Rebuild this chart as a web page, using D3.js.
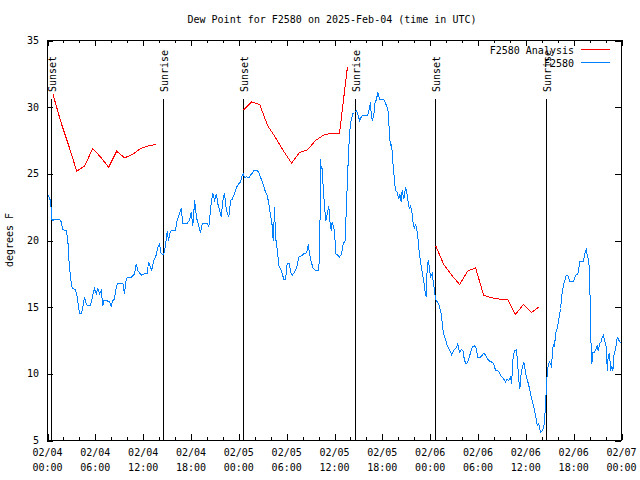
<!DOCTYPE html>
<html><head><meta charset="utf-8">
<script src="https://cdn.jsdelivr.net/npm/d3@7"></script>
<style>
body{margin:0;background:#fff}
svg text{font-family:"DejaVu Sans Mono","Liberation Mono",monospace;font-size:10px;fill:#000}
</style>
</head><body><svg id="chart" width="640" height="480"></svg>
<script>
// ---- data ----
const titleText = "Dew Point for F2580 on 2025-Feb-04 (time in UTC)";
const yAxisLabel = "degrees F";
const yTickValues = [5, 10, 15, 20, 25, 30, 35];
const xMajorHours = [0, 6, 12, 18, 24, 30, 36, 42, 48, 54, 60, 66, 72];
const xMinorHours = [2, 4, 8, 10, 14, 16, 20, 22, 26, 28, 32, 34, 38, 40, 44, 46, 50, 52, 56, 58, 62, 64, 68, 70];
const seriesNames = ["F2580 Analysis", "F2580"];
const seriesColors = ["#ff0000", "#0080ff"];
// [hours since 2025-02-04 00:00 UTC, dew point F]
const observations = [[0.08,23.4],[0.29,23.1],[0.38,23.0],[0.46,22.4],[0.54,21.6],[0.66,21.5],[0.88,21.6],[1.51,21.6],[1.72,21.4],[1.92,20.8],[2.35,20.75],[2.55,20.1],[2.63,19.0],[2.76,18.0],[2.89,17.25],[3.05,16.55],[3.17,16.4],[3.47,16.3],[3.68,15.95],[3.80,15.4],[3.93,14.9],[4.01,14.5],[4.23,14.5],[4.43,15.0],[4.64,15.75],[4.85,15.25],[5.06,15.1],[5.39,15.1],[5.68,15.9],[5.90,16.4],[6.11,16.0],[6.31,16.4],[6.52,16.0],[6.74,16.25],[6.94,15.1],[7.06,15.5],[7.36,15.5],[7.78,15.4],[7.99,15.1],[8.19,15.5],[8.40,15.6],[8.62,16.5],[8.82,16.8],[9.45,16.8],[9.66,16.0],[9.87,17.1],[10.07,17.25],[10.50,17.25],[10.91,17.5],[11.13,18.25],[11.33,17.75],[11.75,17.4],[12.17,17.5],[12.51,17.5],[12.67,18.4],[12.92,18.0],[13.08,17.75],[13.33,18.5],[13.63,18.9],[13.84,19.5],[14.05,19.75],[14.26,19.0],[14.59,18.95],[14.76,19.5],[15.02,20.7],[15.18,20.0],[15.43,20.7],[15.72,20.75],[16.06,20.75],[16.27,21.55],[16.56,22.0],[16.77,22.4],[16.97,21.3],[17.52,21.3],[17.81,21.5],[18.03,22.1],[18.23,21.1],[18.46,23.0],[18.69,21.75],[18.78,21.5],[18.98,21.1],[19.19,20.6],[19.41,21.25],[19.82,21.3],[20.03,21.3],[20.23,21.0],[20.36,21.75],[20.53,22.75],[20.74,23.55],[20.95,23.0],[21.20,23.5],[21.36,22.75],[21.61,22.25],[21.79,21.75],[21.99,23.0],[22.20,23.55],[22.37,22.6],[22.54,22.1],[22.74,21.75],[22.96,23.0],[23.17,23.1],[23.37,23.4],[23.58,23.75],[23.80,24.1],[24.00,24.25],[24.21,24.4],[24.42,24.9],[24.55,25.0],[24.71,24.7],[24.96,24.8],[25.25,24.7],[25.46,24.9],[25.68,25.05],[25.88,25.25],[26.30,25.25],[26.51,25.1],[26.72,24.75],[26.93,24.4],[27.13,24.1],[27.35,23.6],[27.56,23.4],[27.76,22.75],[27.97,21.9],[28.19,21.1],[28.31,20.0],[28.39,21.0],[28.48,22.5],[28.60,20.25],[28.73,19.75],[28.89,18.9],[29.01,18.1],[29.23,17.9],[29.44,17.5],[29.64,17.1],[29.86,17.05],[30.07,18.3],[30.36,18.3],[30.48,17.6],[30.70,17.4],[30.90,17.55],[31.11,17.75],[31.32,18.1],[31.52,18.75],[31.74,18.8],[31.95,18.9],[32.15,19.0],[32.36,19.0],[32.58,19.25],[32.70,19.7],[32.87,19.0],[33.08,18.4],[33.33,17.9],[33.62,17.75],[34.03,17.75],[34.16,20.0],[34.25,26.1],[34.33,25.4],[34.46,25.4],[34.58,24.0],[34.75,22.5],[34.91,21.5],[35.09,22.0],[35.29,22.6],[35.41,21.5],[35.59,20.75],[35.71,21.4],[35.91,21.0],[36.04,20.25],[36.17,19.0],[36.42,18.9],[36.63,18.75],[36.88,19.0],[37.09,19.75],[37.34,20.0],[37.42,21.4],[37.59,24.0],[37.72,26.0],[37.88,28.0],[38.10,29.1],[38.30,29.5],[38.51,29.6],[38.76,29.75],[38.92,29.5],[39.14,29.0],[39.35,29.25],[39.55,29.4],[40.18,29.4],[40.39,29.9],[40.52,30.4],[40.61,29.4],[40.73,29.0],[40.93,29.4],[41.06,30.25],[41.27,30.6],[41.43,31.1],[41.68,30.6],[41.99,30.6],[42.27,30.5],[42.53,30.1],[42.69,29.9],[42.81,28.9],[42.94,27.5],[43.11,27.0],[43.15,27.25],[43.24,26.6],[43.37,25.5],[43.53,24.5],[43.65,23.75],[43.87,23.6],[44.07,23.1],[44.19,23.5],[44.37,22.9],[44.49,23.75],[44.69,23.1],[44.91,24.0],[45.03,23.75],[45.20,23.0],[45.37,22.4],[45.54,22.6],[45.75,22.0],[45.87,21.25],[46.04,20.9],[46.16,21.25],[46.38,20.6],[46.50,20.0],[46.63,19.1],[46.79,18.4],[47.00,17.6],[47.20,17.0],[47.33,16.25],[47.50,15.75],[47.63,18.0],[47.76,18.5],[47.88,18.1],[48.04,17.25],[48.26,17.5],[48.46,16.6],[48.58,16.0],[48.76,15.5],[48.88,15.4],[49.08,15.25],[49.39,14.5],[49.64,13.1],[49.93,12.6],[50.14,12.1],[50.47,11.75],[50.68,11.45],[50.96,11.75],[51.31,12.0],[51.47,12.25],[51.68,11.6],[51.90,11.8],[52.10,11.75],[52.31,11.0],[52.52,10.75],[52.72,10.9],[52.97,11.4],[53.27,12.0],[53.56,12.1],[53.78,11.9],[53.98,11.25],[54.32,11.25],[54.53,11.4],[54.73,11.55],[54.94,11.4],[55.23,11.1],[55.48,10.95],[55.66,10.9],[55.98,10.75],[56.20,10.25],[56.61,10.2],[56.83,9.9],[57.04,9.75],[57.24,9.6],[57.45,9.4],[57.66,9.6],[57.87,9.5],[58.08,9.75],[58.21,9.25],[58.42,11.4],[58.62,11.75],[58.83,11.8],[59.00,10.5],[59.12,9.5],[59.25,8.9],[59.42,10.1],[59.62,10.6],[59.75,10.9],[59.96,10.1],[60.09,9.75],[60.25,9.4],[60.46,8.9],[60.68,8.25],[60.88,7.75],[61.09,7.25],[61.30,6.6],[61.43,6.1],[61.63,6.25],[61.84,5.6],[62.05,5.75],[62.25,6.0],[62.38,6.75],[62.51,8.1],[62.59,9.25],[62.76,10.5],[62.97,10.9],[63.19,10.6],[63.31,11.25],[63.44,12.25],[63.60,12.0],[63.72,13.0],[63.94,13.4],[64.14,14.1],[64.35,14.9],[64.56,16.1],[64.77,16.75],[65.07,17.4],[65.27,17.4],[65.52,16.9],[65.95,16.9],[66.23,17.4],[66.52,17.5],[66.77,18.4],[67.20,18.45],[67.40,19.0],[67.58,19.3],[67.70,18.9],[67.90,18.5],[68.03,16.6],[68.15,12.75],[68.28,10.75],[68.40,11.6],[68.62,11.6],[68.83,11.9],[68.96,12.1],[69.08,11.75],[69.25,12.25],[69.46,12.4],[69.59,12.75],[69.71,12.9],[69.88,12.5],[70.09,12.0],[70.22,10.25],[70.34,11.4],[70.51,11.5],[70.63,10.25],[70.76,10.6],[70.92,10.25],[71.05,11.4],[71.26,11.9],[71.47,12.75],[71.69,12.5],[71.82,12.4],[71.97,12.3]];
const analysisNight1 = [[0.67,31.0],[1.67,28.9],[2.67,27.1],[3.67,25.2],[4.67,25.6],[5.67,26.9],[6.67,26.25],[7.67,25.5],[8.67,26.7],[9.67,26.2],[10.67,26.45],[11.67,26.9],[12.67,27.1],[13.67,27.2]];
const analysisNight2 = [[24.62,29.8],[25.62,30.4],[26.62,30.2],[27.62,28.6],[28.62,27.7],[29.62,26.7],[30.62,25.8],[31.62,26.6],[32.62,26.8],[33.62,27.5],[34.62,27.9],[35.62,28.05],[36.62,28.0],[37.62,33.0]];
const analysisNight3 = [[48.7,19.6],[49.7,18.2],[50.7,17.4],[51.7,16.7],[52.7,17.7],[53.7,17.95],[54.7,15.9],[55.7,15.7],[56.7,15.6],[57.7,15.6],[58.7,14.45],[59.7,15.2],[60.7,14.6],[61.7,15.05]];
const sunHours = [0.56, 14.6, 24.62, 38.67, 48.71, 62.63];
const sunLabels = ["Sunset", "Sunrise", "Sunset", "Sunrise", "Sunset", "Sunrise"];

// ---- drawing ----
const t0 = Date.UTC(2025, 1, 4, 0, 0);
const toDate = h => new Date(t0 + h * 3600000);
const svg = d3.select("#chart");
const L = 47, R = 621, T = 40, B = 440;
const x = d3.scaleUtc().domain([toDate(0), toDate(72)]).range([L + 0.5, R + 0.5]);
const y = d3.scaleLinear().domain([5, 35]).range([B + 0.5, T + 0.5]);

svg.append("rect").attr("width", 640).attr("height", 480).attr("fill", "#fff");

function cleanAxis(g) {
  g.select(".domain").remove();
  g.selectAll("text").remove();
  g.selectAll("line").attr("stroke", "#000").attr("shape-rendering", "crispEdges");
}
svg.append("g").attr("transform", `translate(0,${B})`)
  .call(d3.axisBottom(x).tickValues(xMajorHours.map(toDate)).tickSize(-6)).call(cleanAxis);
svg.append("g").attr("transform", `translate(0,${B})`)
  .call(d3.axisBottom(x).tickValues(xMinorHours.map(toDate)).tickSize(-3)).call(cleanAxis);
svg.append("g").attr("transform", `translate(0,${T})`)
  .call(d3.axisTop(x).tickValues(xMajorHours.map(toDate)).tickSize(-6)).call(cleanAxis);
svg.append("g").attr("transform", `translate(0,${T})`)
  .call(d3.axisTop(x).tickValues(xMinorHours.map(toDate)).tickSize(-3)).call(cleanAxis);
svg.append("g").attr("transform", `translate(${L},0)`)
  .call(d3.axisLeft(y).tickValues(yTickValues).tickSize(-6)).call(cleanAxis);
svg.append("g").attr("transform", `translate(${R},0)`)
  .call(d3.axisRight(y).tickValues(yTickValues).tickSize(-6)).call(cleanAxis);

const fmtDay = d3.utcFormat("%m/%d"), fmtTime = d3.utcFormat("%H:%M");
const xl = svg.append("g").selectAll("text").data(xMajorHours.map(toDate)).join("text")
  .attr("text-anchor", "middle").attr("x", d => x(d));
xl.append("tspan").attr("x", d => x(d)).attr("y", 456).text(d => fmtDay(d));
xl.append("tspan").attr("x", d => x(d)).attr("y", 471).text(d => fmtTime(d));

svg.append("g").selectAll("text").data(yTickValues).join("text")
  .attr("text-anchor", "end").attr("x", 39).attr("y", d => y(d) + 3.5).text(d => d);

svg.append("rect").attr("x", L + 0.5).attr("y", T + 0.5).attr("width", R - L).attr("height", B - T)
  .attr("fill", "none").attr("stroke", "#000").attr("shape-rendering", "crispEdges");

sunHours.forEach((h, i) => {
  const xx = Math.round(x(toDate(h)) - 0.5) + 0.5;
  svg.append("line").attr("x1", xx).attr("x2", xx).attr("y1", 99).attr("y2", B)
    .attr("stroke", "#000").attr("shape-rendering", "crispEdges");
  svg.append("text").attr("transform", `translate(${xx + 4.5},92) rotate(-90)`)
    .attr("text-anchor", "start").text(sunLabels[i]);
});

const line = d3.line().x(d => x(toDate(d[0]))).y(d => y(d[1]));
[analysisNight1, analysisNight2, analysisNight3].forEach(seg => {
  svg.append("path").datum(seg).attr("d", line).attr("fill", "none")
    .attr("stroke", seriesColors[0]).attr("stroke-width", 1).attr("shape-rendering", "crispEdges");
});
svg.append("path").datum(observations).attr("d", line).attr("fill", "none")
  .attr("stroke", seriesColors[1]).attr("stroke-width", 1).attr("shape-rendering", "crispEdges");

seriesNames.forEach((name, i) => {
  const ly = 49.5 + i * 13;
  svg.append("text").attr("x", 574).attr("y", ly + 4).attr("text-anchor", "end").text(name);
  svg.append("line").attr("x1", 581).attr("x2", 610).attr("y1", ly).attr("y2", ly)
    .attr("stroke", seriesColors[i]).attr("shape-rendering", "crispEdges");
});

svg.append("text").attr("x", 332).attr("y", 23).attr("text-anchor", "middle").text(titleText);
svg.append("text").attr("transform", "translate(13,240) rotate(-90)").attr("text-anchor", "middle").text(yAxisLabel);
</script>
</body></html>
